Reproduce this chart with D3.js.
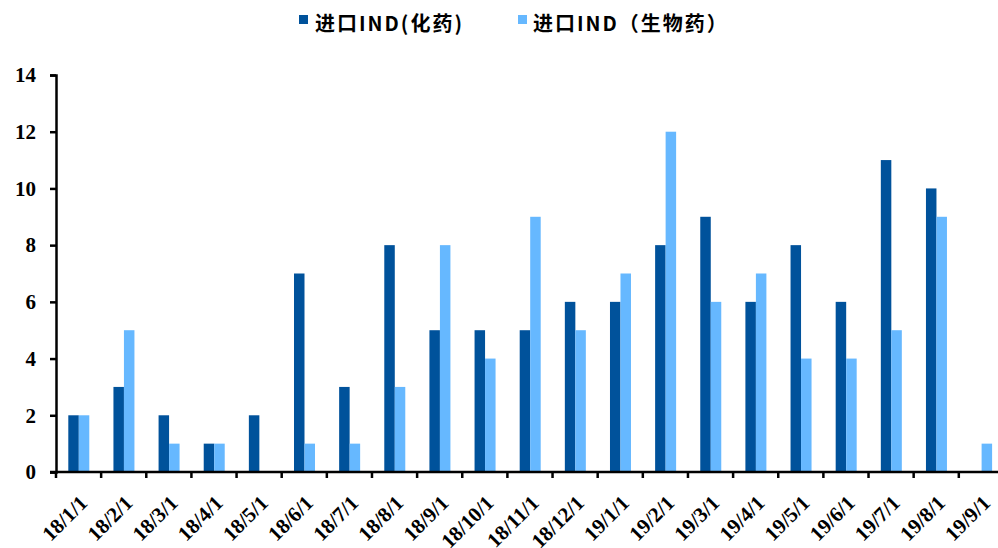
<!DOCTYPE html>
<html>
<head>
<meta charset="utf-8">
<script src="https://cdn.jsdelivr.net/npm/d3@7"></script>
<style>
  body { margin: 0; background: #fff; }
  svg { display: block; }
</style>
</head>
<body>
<div id="chart"></div>
<script>
var categories = ['18/1/1','18/2/1','18/3/1','18/4/1','18/5/1','18/6/1','18/7/1','18/8/1','18/9/1','18/10/1','18/11/1','18/12/1',
  '19/1/1','19/2/1','19/3/1','19/4/1','19/5/1','19/6/1','19/7/1','19/8/1','19/9/1']
var chemValues = [2,3,2,1,2,7,3,8,5,5,5,6,6,8,9,6,8,6,11,10,0]
var bioValues  = [2,5,1,1,0,1,1,3,8,4,9,5,7,12,6,7,4,4,5,9,1]
var seriesNames = ['进口IND(化药)', '进口IND（生物药）']
var yTicks = [0,2,4,6,8,10,12,14]

var colors = ['#00529b', '#66b8ff']
var width = 998, height = 548
var margin = {top: 75, left: 56, bottom: 76}
var plotH = height - margin.top - margin.bottom

var svg = d3.select('#chart').append('svg')
  .attr('width', width)
  .attr('height', height)

var x = d3.scaleBand()
  .domain(categories)
  .range([margin.left, margin.left + 45.14 * categories.length])

var x1 = d3.scaleBand()
  .domain([0, 1])
  .range([12.3, 12.3 + 21])

var y = d3.scaleLinear()
  .domain([0, 14])
  .range([margin.top + plotH, margin.top])

var data = categories.map(function (c, i) {
  return {cat: c, vals: [chemValues[i], bioValues[i]]}
})

// bars
var groups = svg.append('g').selectAll('g')
  .data(data)
  .enter().append('g')
  .attr('transform', function (d) { return 'translate(' + x(d.cat) + ',0)' })

groups.selectAll('rect')
  .data(function (d) { return d.vals.map(function (v, k) { return {k: k, v: v} }) })
  .enter().append('rect')
  .attr('x', function (d) { return x1(d.k) })
  .attr('width', x1.bandwidth())
  .attr('y', function (d) { return y(d.v) })
  .attr('height', function (d) { return y(0) - y(d.v) })
  .attr('fill', function (d) { return colors[d.k] })

// y axis
var yAxis = svg.append('g')
  .attr('transform', 'translate(' + margin.left + ',0)')
  .call(d3.axisLeft(y).tickValues(yTicks).tickSize(6).tickPadding(14))
yAxis.select('.domain').attr('stroke', '#000').attr('stroke-width', 2.5)
yAxis.selectAll('.tick line').attr('stroke', '#000').attr('stroke-width', 2.5)
yAxis.selectAll('text')
  .attr('font-family', '"Liberation Serif", "Times New Roman", serif')
  .attr('font-weight', 'bold')
  .attr('font-size', 21)
  .attr('fill', '#000')

// x axis: ticks on band boundaries
var boundaries = categories.map(function (c) { return x(c) })
var xAxisG = svg.append('g')
  .attr('transform', 'translate(0,' + y(0) + ')')
xAxisG.append('line')
  .attr('x1', margin.left - 6).attr('x2', width)
  .attr('stroke', '#000').attr('stroke-width', 2.5)
xAxisG.selectAll('.xt')
  .data(boundaries)
  .enter().append('line')
  .attr('class', 'xt')
  .attr('x1', function (d) { return d }).attr('x2', function (d) { return d })
  .attr('y1', 0).attr('y2', 6)
  .attr('stroke', '#000').attr('stroke-width', 2.5)

xAxisG.selectAll('text')
  .data(categories)
  .enter().append('text')
  .attr('transform', function (d) {
    return 'translate(' + (x(d) + x.bandwidth() / 2 + 5) + ',27) rotate(-45)'
  })
  .attr('text-anchor', 'end')
  .attr('dy', '0.35em')
  .attr('font-family', '"Liberation Serif", "Times New Roman", serif')
  .attr('font-weight', 'bold')
  .attr('font-size', 21)
  .text(function (d) { return d })

// legend
var legendPos = [{sq: 299, tx: 315}, {sq: 518, tx: 533}]
var legend = svg.append('g')
seriesNames.forEach(function (name, i) {
  legend.append('rect')
    .attr('x', legendPos[i].sq).attr('y', 15)
    .attr('width', 9).attr('height', 9)
    .attr('fill', colors[i])
  legend.append('text')
    .attr('x', legendPos[i].tx).attr('y', 26)
    .attr('dominant-baseline', 'middle')
    .attr('font-family', '"Noto Sans CJK SC", sans-serif')
    .attr('font-weight', 'bold')
    .attr('font-size', 20)
    .attr('letter-spacing', 2)
    .text(name)
})
</script>
</body>
</html>
